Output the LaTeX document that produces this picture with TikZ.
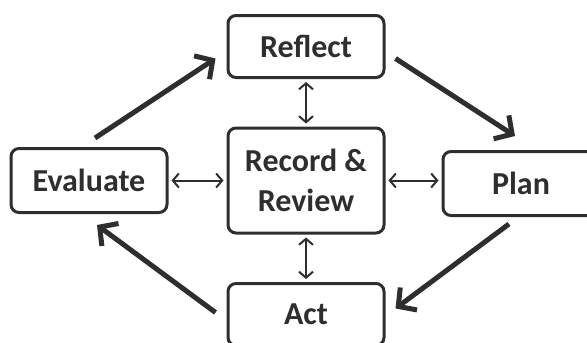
\documentclass[tikz,border=0pt]{standalone}
\usepackage{fontspec}
\setmainfont{Carlito}
\usetikzlibrary{arrows.meta,positioning}
\colorlet{ink}{black!82}
\tikzset{
  stage/.style = { draw=ink, line width=3pt, rounded corners=8pt, text=ink,
    minimum width=156pt, minimum height=62pt, align=center,
    font=\fontsize{32}{40}\selectfont\bfseries },
  bigarr/.style = { draw=ink, line width=5pt,
    -{Straight Barb[length=13pt,width=28pt,line width=5pt]} },
  linkarr/.style = { draw=ink, line width=2pt, shorten >=3pt, shorten <=3pt,
    {Straight Barb[length=6pt,width=14pt]}-{Straight Barb[length=6pt,width=14pt]} }
}

\begin{document}
\begin{tikzpicture}[x=1pt,y=1pt,on grid]
    \useasboundingbox (0,0) rectangle (587,-343);
    \node[stage, minimum height=105pt] (rr) at (306,-180.5) {Record \&\\Review};
    \node[stage, above=134pt of rr] (rf) {Reflect};
    \node[stage, below=134pt of rr] (act) {Act};
    \node[stage, left=217pt of rr, minimum height=64pt] (ev) {Evaluate};
    \node[stage, right=215pt of rr, minimum height=64pt, yshift=-3pt] (pl) {Plan};
    % cycle
    \draw[bigarr] ([xshift=6pt,yshift=9pt]ev.north) -- ([xshift=-11pt,yshift=-12pt]rf.west);
    \draw[bigarr] ([xshift=10pt,yshift=-12pt]rf.east) -- ([xshift=-6pt,yshift=14pt]pl.north);
    \draw[bigarr] ([xshift=-12pt,yshift=-7pt]pl.south) -- ([xshift=10pt,yshift=6pt]act.east);
    \draw[bigarr] ([xshift=-11pt,yshift=2pt]act.west) -- ([xshift=8pt,yshift=-11pt]ev.south);
    % links to the centre
    \draw[linkarr] (rf) -- (rr);
    \draw[linkarr] (rr) -- (act);
    \draw[linkarr] (ev) -- (rr);
    \draw[linkarr] (rr) -- (pl.west |- rr);
\end{tikzpicture}
\end{document}
